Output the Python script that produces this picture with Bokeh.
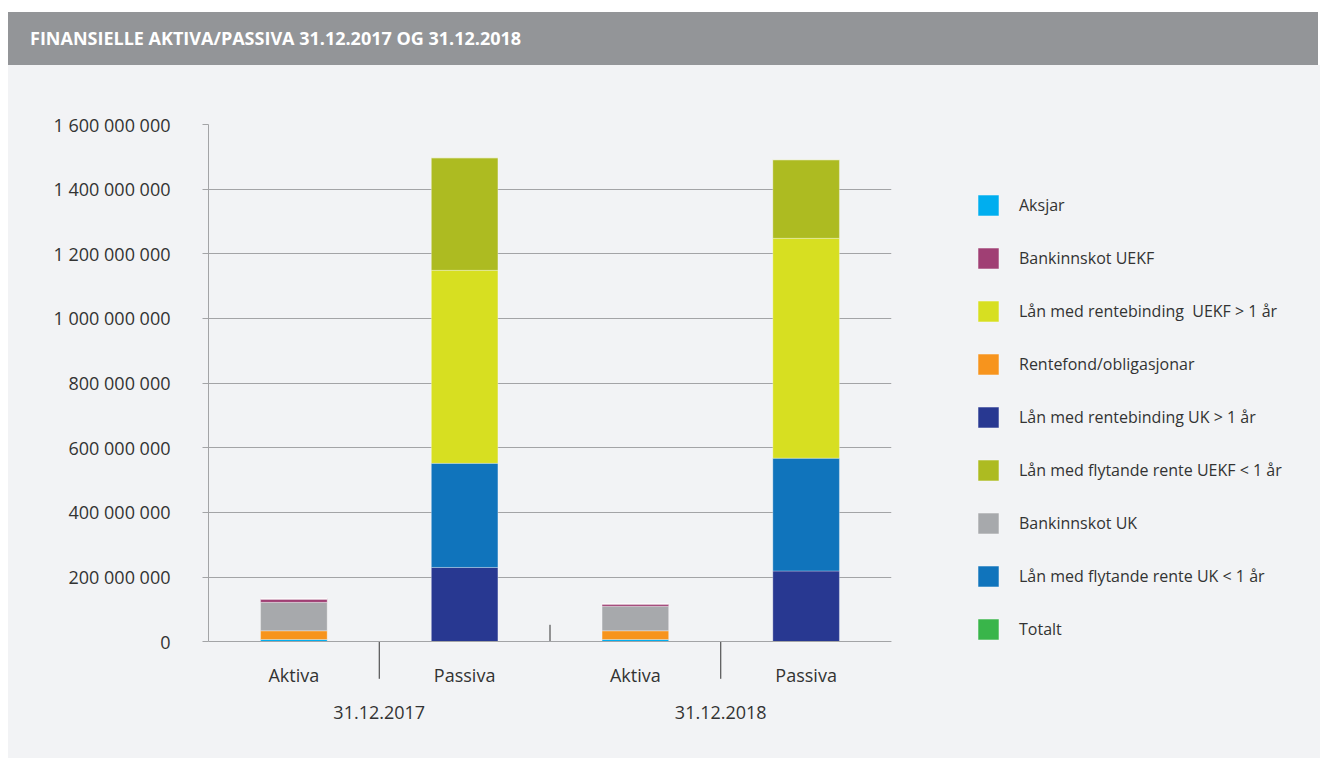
from bokeh.plotting import figure
from bokeh.models import (FactorRange, Range1d, FixedTicker, CustomJSTickFormatter,
                          Legend, LegendItem, ColumnDataSource, Div)
from bokeh.layouts import column
from bokeh.embed import file_html
from bokeh.resources import INLINE

# ---------------- data ----------------
title_text = "FINANSIELLE AKTIVA/PASSIVA 31.12.2017 OG 31.12.2018"
dates = ["31.12.2017", "31.12.2018"]
sides = ["Aktiva", "Passiva"]

# values per category: Aktiva 2017, Passiva 2017, Aktiva 2018, Passiva 2018
aksjar = [7e6, 0, 7e6, 0]
rentefond = [27e6, 0, 27e6, 0]
bankinnskot_uk = [88e6, 0, 76e6, 0]
bankinnskot_uekf = [11e6, 0, 7.5e6, 0]
laan_fast_uk = [0, 230e6, 0, 219e6]
laan_flyt_uk = [0, 322e6, 0, 349e6]
laan_fast_uekf = [0, 597e6, 0, 680e6]
laan_flyt_uekf = [0, 348e6, 0, 243e6]
totalt = [0, 0, 0, 0]

y_ticks = [0, 200_000_000, 400_000_000, 600_000_000, 800_000_000,
           1_000_000_000, 1_200_000_000, 1_400_000_000, 1_600_000_000]

# legend order
legend_labels = ["Aksjar", "Bankinnskot UEKF", "Lån med rentebinding  UEKF > 1 år",
                 "Rentefond/obligasjonar", "Lån med rentebinding UK > 1 år",
                 "Lån med flytande rente UEKF < 1 år", "Bankinnskot UK",
                 "Lån med flytande rente UK < 1 år", "Totalt"]
legend_colors = ["#00aeef", "#a03f74", "#d7df21", "#f7941d", "#283891",
                 "#adbb21", "#a7a9ac", "#1074bc", "#39b54a"]

# stacking order (bottom -> top)
stack_keys = ["aksjar", "rentefond", "bankinnskot_uk", "bankinnskot_uekf",
              "laan_fast_uk", "laan_flyt_uk", "laan_fast_uekf", "laan_flyt_uekf", "totalt"]
stack_values = [aksjar, rentefond, bankinnskot_uk, bankinnskot_uekf,
                laan_fast_uk, laan_flyt_uk, laan_fast_uekf, laan_flyt_uekf, totalt]
stack_labels = ["Aksjar", "Rentefond/obligasjonar", "Bankinnskot UK", "Bankinnskot UEKF",
                "Lån med rentebinding UK > 1 år", "Lån med flytande rente UK < 1 år",
                "Lån med rentebinding  UEKF > 1 år", "Lån med flytande rente UEKF < 1 år",
                "Totalt"]

factors = [(d, s) for d in dates for s in sides]

# ---------------- layout numbers ----------------
FONT = "Open Sans"
TXT = "#333333"
GRID = "#a3a4a6"
BG = "#f2f3f5"
FRAME_W = 683
FRAME_H = 621
ZERO_TO_TOP_PX = 517.3
y_max = y_ticks[-1]
per_px = y_max / ZERO_TO_TOP_PX
y_min = -(FRAME_H - ZERO_TO_TOP_PX) * per_px

src = ColumnDataSource(data=dict(x=factors, **{k: v for k, v in zip(stack_keys, stack_values)}))

p = figure(x_range=FactorRange(*factors, factor_padding=0, group_padding=0,
                               subgroup_padding=0, range_padding=0),
           y_range=Range1d(y_min, y_max),
           frame_width=FRAME_W, frame_height=FRAME_H,
           min_border_left=200, min_border_right=427, min_border_top=59, min_border_bottom=13,
           output_backend="svg", toolbar_location=None,
           background_fill_alpha=0, border_fill_alpha=0)
p.styles = {"background-color": BG}
p.outline_line_color = None
p.margin = (0, 0, 0, 8)

color_of = dict(zip(legend_labels, legend_colors))
renderers = p.vbar_stack(stack_keys, x="x", width=0.39, source=src,
                         fill_color=[color_of[l] for l in stack_labels],
                         line_color="white", line_alpha=0.3, line_width=1)
rend_of = dict(zip(stack_labels, renderers))

# y axis
yax = p.yaxis[0]
yax.ticker = FixedTicker(ticks=y_ticks)
yax.formatter = CustomJSTickFormatter(
    code="return tick.toFixed(0).replace(/\\B(?=(\\d{3})+(?!\\d))/g, ' ');")
yax.bounds = (0, y_max)
yax.axis_line_color = GRID
yax.major_tick_line_color = GRID
yax.major_tick_out = 6
yax.major_tick_in = 0
yax.minor_tick_line_color = None
yax.major_label_standoff = 32
yax.major_label_text_font = FONT
yax.major_label_text_font_size = "18px"
yax.major_label_text_color = TXT

p.ygrid.ticker = FixedTicker(ticks=y_ticks)
p.ygrid.grid_line_color = GRID
p.xgrid.grid_line_color = None

# x axis (multi-level category axis at y = 0)
xax = p.xaxis[0]
xax.fixed_location = 0
xax.axis_line_color = GRID
xax.major_tick_line_color = None
xax.major_tick_out = 5
xax.major_tick_in = 0
xax.major_label_standoff = 16
xax.major_label_text_font = FONT
xax.major_label_text_font_size = "18px"
xax.major_label_text_color = TXT
xax.group_text_font = FONT
xax.group_text_font_size = "18px"
xax.group_text_font_style = "normal"
xax.group_text_color = TXT
xax.separator_line_color = None

# category separator ticks (between factors)
sep_x = [1, 3, 2]
sep_y0 = [0, 0, 0]
sep_y1 = [-37 * per_px, -37 * per_px, 17 * per_px]
p.segment(x0=sep_x, y0=sep_y0, x1=sep_x, y1=sep_y1, line_color="#333333", line_width=1)

legend = Legend(items=[LegendItem(label=l, renderers=[rend_of[l]]) for l in legend_labels],
                location=(84, 103), orientation="vertical",
                glyph_width=26, glyph_height=26, label_height=26, label_standoff=18,
                spacing=27, padding=0, margin=0,
                border_line_color=None, background_fill_alpha=0,
                label_text_font=FONT, label_text_font_size="16px", label_text_color=TXT)
p.add_layout(legend, "right")

header = Div(text=title_text, width=1310, height=53, margin=(12, 0, 0, 8),
             styles={"background-color": "#939598", "color": "#ffffff",
                     "font-family": "Open Sans", "font-weight": "bold",
                     "font-size": "18px", "line-height": "53px",
                     "padding-left": "22px", "box-sizing": "border-box"})

layout = column(header, p, spacing=0)
open("out.html", "w").write(file_html(layout, INLINE))
